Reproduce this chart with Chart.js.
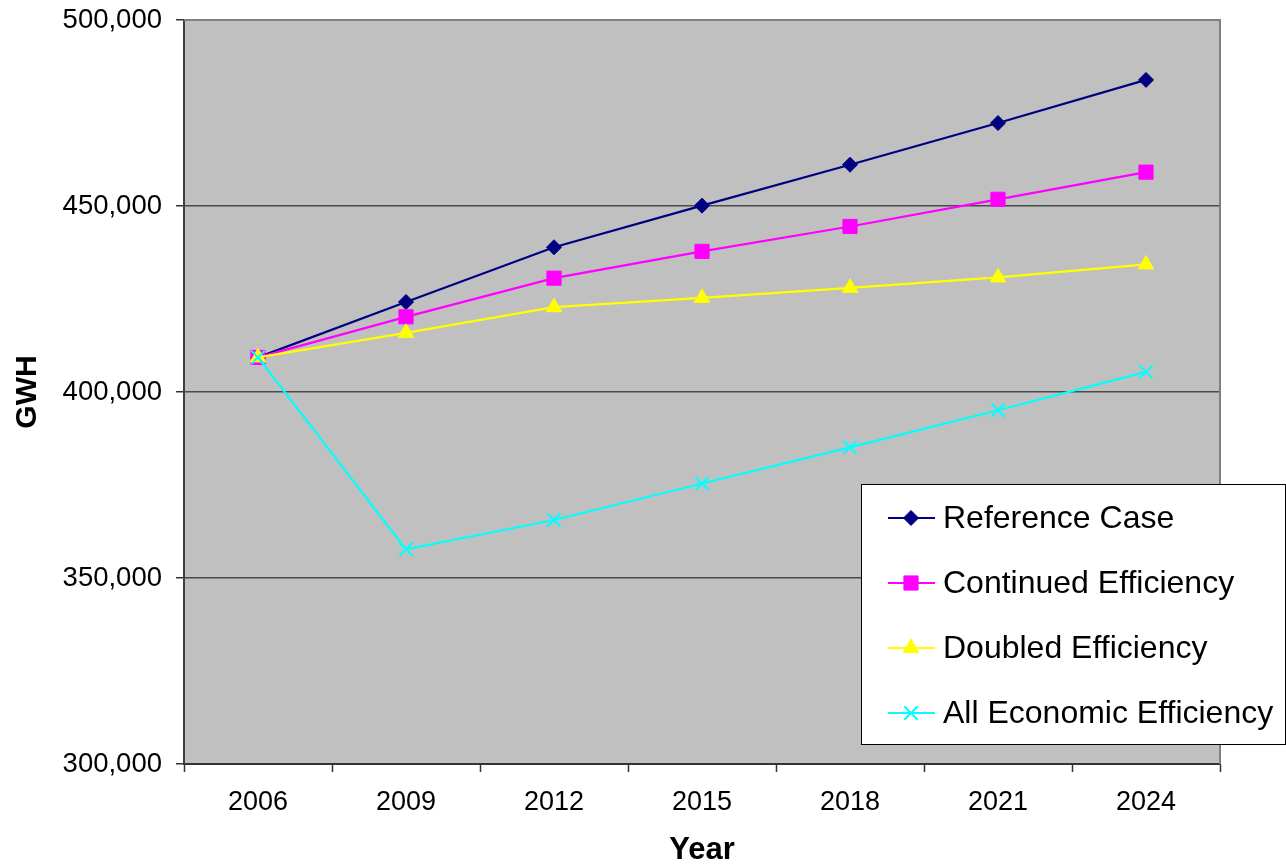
<!DOCTYPE html>
<html>
<head>
<meta charset="utf-8">
<script src="https://cdn.jsdelivr.net/npm/chart.js@4/dist/chart.umd.min.js"></script>
<style>
  html, body { margin: 0; padding: 0; background: #ffffff; }
  #wrap { width: 1286px; height: 864px; position: relative; }
</style>
</head>
<body>
<div id="wrap"><canvas id="c"></canvas></div>
<script>
// Electricity demand scenarios, GWH by year
const years = ['2006', '2009', '2012', '2015', '2018', '2021', '2024'];
const referenceCase         = [409300, 424200, 438900, 450100, 461100, 472300, 483900];
const continuedEfficiency   = [409300, 420200, 430600, 437800, 444500, 451800, 459100];
const doubledEfficiency     = [409300, 415900, 422800, 425300, 428000, 430800, 434300];
const allEconomicEfficiency = [409300, 357700, 365600, 375400, 385100, 395100, 405400];
const seriesNames = ['Reference Case', 'Continued Efficiency', 'Doubled Efficiency', 'All Economic Efficiency'];
const yTicks = [300000, 350000, 400000, 450000, 500000];

const FONT = "'Liberation Sans', Arial, Helvetica, sans-serif";

const styles = [
  { color: '#000080', pointStyle: 'rectRot',  radius: 7.5 },
  { color: '#FF00FF', pointStyle: 'rect',     radius: 10  },
  { color: '#FFFF00', pointStyle: 'triangle', radius: 9   },
  { color: '#00FFFF', pointStyle: 'crossRot', radius: 9.5 }
];
const seriesData = [referenceCase, continuedEfficiency, doubledEfficiency, allEconomicEfficiency];

const datasets = seriesData.map((vals, i) => ({
  label: seriesNames[i],
  data: vals,
  borderColor: styles[i].color,
  backgroundColor: styles[i].color,
  pointBackgroundColor: styles[i].color,
  pointBorderColor: styles[i].color,
  pointStyle: styles[i].pointStyle,
  pointRadius: styles[i].radius,
  pointBorderWidth: i === 3 ? 2 : 1,
  borderWidth: 2.2,
  tension: 0,
  fill: false,
  order: seriesData.length - i
}));

// Grey plot background and frame
const plotBackground = {
  id: 'plotBackground',
  beforeDraw(chart) {
    const { ctx, chartArea: a } = chart;
    ctx.save();
    ctx.fillStyle = '#C0C0C0';
    ctx.fillRect(a.left, a.top, a.right - a.left, a.bottom - a.top);
    ctx.restore();
  },
  beforeDatasetsDraw(chart) {
    const { ctx, chartArea: a } = chart;
    ctx.save();
    ctx.strokeStyle = '#808080';
    ctx.lineWidth = 2;
    ctx.beginPath();
    ctx.moveTo(a.left, a.top);
    ctx.lineTo(a.right, a.top);
    ctx.lineTo(a.right, a.bottom);
    ctx.stroke();
    ctx.restore();
  }
};

// Boxed legend inside the plot's lower right
const boxLegend = {
  id: 'boxLegend',
  afterDraw(chart) {
    const { ctx } = chart;
    const box = { x: 861.5, y: 484.5, w: 424, h: 260 };
    ctx.save();
    ctx.fillStyle = '#ffffff';
    ctx.fillRect(box.x, box.y, box.w, box.h);
    ctx.strokeStyle = '#000000';
    ctx.lineWidth = 1;
    ctx.strokeRect(box.x, box.y, box.w, box.h);
    chart.data.datasets.forEach((ds, i) => {
      const y = 518 + i * 65;
      ctx.strokeStyle = ds.borderColor;
      ctx.lineWidth = 2.2;
      ctx.beginPath();
      ctx.moveTo(888, y);
      ctx.lineTo(935, y);
      ctx.stroke();
      ctx.fillStyle = ds.pointBackgroundColor;
      ctx.strokeStyle = ds.pointBorderColor;
      ctx.lineWidth = ds.pointBorderWidth;
      Chart.helpers.drawPoint(ctx, {
        pointStyle: ds.pointStyle,
        radius: ds.pointRadius,
        rotation: 0,
        borderWidth: ds.pointBorderWidth
      }, 911, y);
      ctx.fillStyle = '#000000';
      ctx.font = '32px ' + FONT;
      ctx.textBaseline = 'middle';
      ctx.textAlign = 'left';
      ctx.fillText(ds.label, 943, y + 1);
    });
    ctx.restore();
  }
};

new Chart(document.getElementById('c'), {
  type: 'line',
  data: { labels: years, datasets },
  options: {
    responsive: true,
    maintainAspectRatio: false,
    animation: false,
    layout: { padding: { top: 20, right: 66, left: 0, bottom: 0 } },
    plugins: {
      legend: { display: false },
      tooltip: { enabled: false },
      title: { display: false }
    },
    scales: {
      x: {
        type: 'category',
        offset: true,
        afterFit(scale) { scale.height = 100; },
        grid: {
          display: true,
          offset: true,
          drawOnChartArea: false,
          drawTicks: true,
          tickLength: 8,
          tickColor: '#333333',
          tickWidth: 1.5
        },
        border: { display: true, color: '#333333', width: 2 },
        ticks: {
          color: '#000000',
          font: { family: FONT, size: 27 },
          padding: 14,
          maxRotation: 0,
          autoSkip: false
        },
        title: {
          display: true,
          text: 'Year',
          color: '#000000',
          font: { family: FONT, size: 31, weight: 'bold', lineHeight: 1 },
          padding: { top: 0, bottom: -2 }
        }
      },
      y: {
        min: yTicks[0],
        max: yTicks[yTicks.length - 1],
        afterFit(scale) {
          scale.width = 184;
          scale.paddingTop = 0;
          scale.paddingBottom = 0;
        },
        afterBuildTicks(scale) { scale.ticks = yTicks.map(v => ({ value: v })); },
        grid: {
          color: '#4a4a4a',
          lineWidth: 1.5,
          tickLength: 8,
          tickColor: '#333333',
          tickWidth: 1.5
        },
        border: { display: true, color: '#404040', width: 2 },
        ticks: {
          color: '#000000',
          font: { family: FONT, size: 27.5 },
          padding: 14,
          callback: v => Number(v).toLocaleString('en-US')
        },
        title: {
          display: true,
          text: 'GWH',
          color: '#000000',
          font: { family: FONT, size: 30, weight: 'bold' },
          padding: { top: 10, bottom: 0 }
        }
      }
    }
  },
  plugins: [plotBackground, boxLegend]
});
</script>
</body>
</html>
